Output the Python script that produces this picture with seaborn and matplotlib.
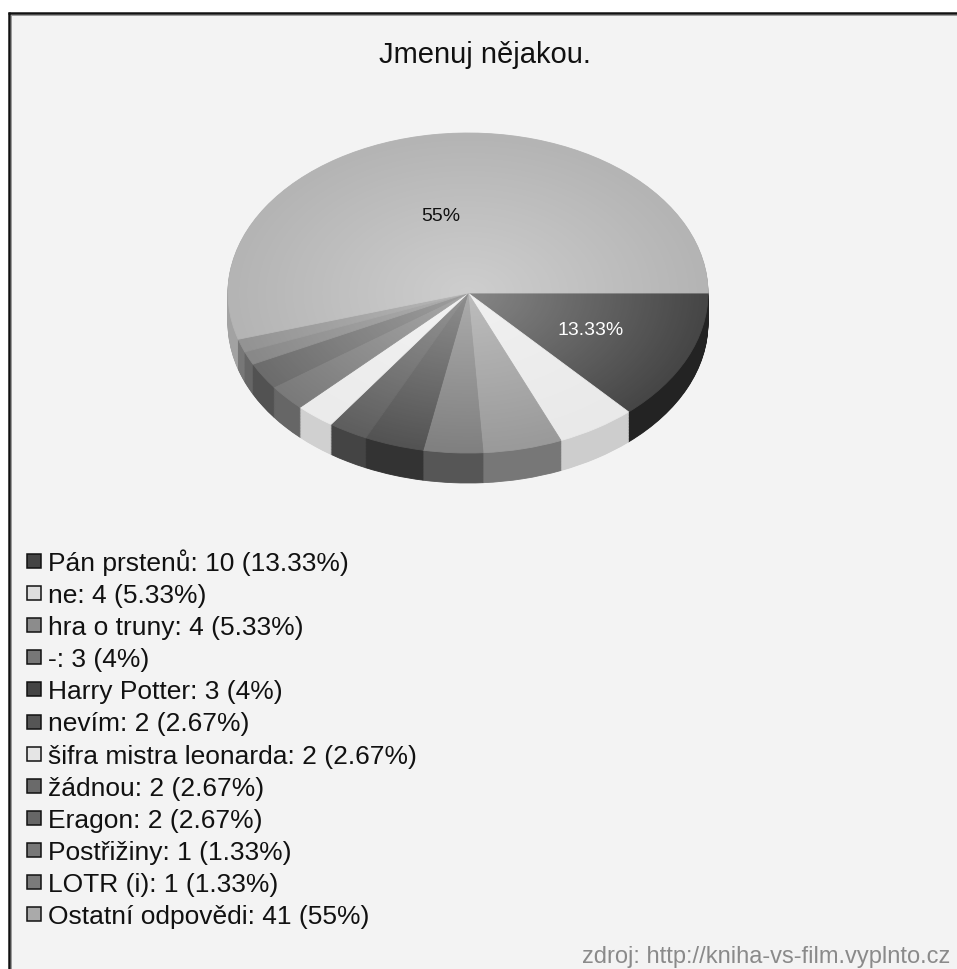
import numpy as np
import matplotlib
matplotlib.use("Agg")
import matplotlib.pyplot as plt
from matplotlib.patches import Rectangle, Circle
import seaborn as sns

# ---------------- data ----------------
categories = ["Pán prstenů", "ne", "hra o truny", "-", "Harry Potter", "nevím",
              "šifra mistra leonarda", "žádnou", "Eragon", "Postřižiny",
              "LOTR (i)", "Ostatní odpovědi"]
counts = [10, 4, 4, 3, 3, 2, 2, 2, 2, 1, 1, 41]
percent_labels = ["13.33", "5.33", "5.33", "4", "4", "2.67", "2.67", "2.67",
                  "2.67", "1.33", "1.33", "55"]
title = "Jmenuj nějakou."
source = "zdroj: http://kniha-vs-film.vyplnto.cz"

# ---------------- style ----------------
top_colors = ["#464646", "#e9e9e9", "#9a9a9a", "#808080", "#535353", "#5e5e5e",
              "#ebebeb", "#7a7a7a", "#6c6c6c", "#888888", "#939393", "#b4b4b4"]
side_colors = ["#232323", "#cdcdcd", "#777777", "#565656", "#333333", "#444444",
               "#d0d0d0", "#666666", "#525252", "#666666", "#777777", "#a2a2a2"]
legend_colors = ["#444444", "#dddddd", "#8c8c8c", "#777777", "#444444", "#555555",
                 "#e5e5e5", "#6a6a6a", "#666666", "#777777", "#7a7a7a", "#aaaaaa"]

sns.set_theme(style="white")
plt.rcParams["font.family"] = ["Liberation Sans", "DejaVu Sans"]

W, H = 957, 970
fig = plt.figure(figsize=(W / 100, H / 100), dpi=100)
fig.patch.set_facecolor("#f3f3f3")

# background / frame axes in pixel coordinates
bg = fig.add_axes([0, 0, 1, 1])
bg.set_xlim(0, W)
bg.set_ylim(H, 0)
bg.axis("off")
# white outside strips (left and top)
bg.add_patch(Rectangle((-10, -10), 19, H + 20, facecolor="white", edgecolor="none"))
bg.add_patch(Rectangle((-10, -10), W + 20, 24, facecolor="white", edgecolor="none"))
bg.plot([9, 9], [13, H + 5], color="#111111", lw=1.8, solid_capstyle="butt")
bg.plot([8, W + 5], [14, 14], color="#111111", lw=1.8, solid_capstyle="butt")
bg.plot([11, 11], [16, H + 5], color="#999999", lw=0.7)
bg.plot([11, W + 5], [16, 16], color="#999999", lw=0.7)

bg.text(485, 63, title, ha="center", va="baseline", fontsize=21, color="#111111")

# legend rows
row0, step = 571, 32.1
for i, (cat, n, p, col) in enumerate(zip(categories, counts, percent_labels, legend_colors)):
    base = row0 + i * step
    bg.add_patch(Rectangle((26.5, base - 16), 14, 14, facecolor=col,
                           edgecolor="#111111", linewidth=1.1))
    bg.text(48, base, f"{cat}: {n} ({p}%)", ha="left", va="baseline",
            fontsize=19, color="#111111")

bg.text(950, 963, source, ha="right", va="baseline", fontsize=17, color="#8a8a8a")

# ---------------- pie (pseudo 3D) ----------------
cx_px, cy_px, rx_px, ry_px, depth_px = 468, 294, 240, 160, 30
xl = (-1.05, 1.05)
yl = (-1.3, 1.05)
ax_w = (xl[1] - xl[0]) * rx_px
ax_h = (yl[1] - yl[0]) * ry_px
left = cx_px + xl[0] * rx_px
bottom = (H - cy_px) + yl[0] * ry_px
ax = fig.add_axes([left / W, bottom / H, ax_w / W, ax_h / H])
ax.patch.set_visible(False)

depth = depth_px / ry_px
n_layers = 40
for k in range(n_layers):
    cy = -depth + depth * k / n_layers
    wedges, _ = ax.pie(counts, colors=side_colors, startangle=0, counterclock=False,
                       center=(0, cy), radius=1,
                       wedgeprops=dict(linewidth=0.6))
    for w in wedges:
        w.set_edgecolor(w.get_facecolor())

top_wedges, _ = ax.pie(counts, colors=top_colors, startangle=0, counterclock=False,
                       center=(0, 0), radius=1, wedgeprops=dict(linewidth=0.6))
for w in top_wedges:
    w.set_edgecolor(w.get_facecolor())

# radial light gradient on the top face
g = np.linspace(-1, 1, 400)
X, Y = np.meshgrid(g, g)
R = np.sqrt(X ** 2 + Y ** 2)
alpha = np.clip(1 - R, 0, 1) * 0.35
img = np.zeros((400, 400, 4))
img[..., :3] = 1.0
img[..., 3] = alpha
im = ax.imshow(img, extent=(-1, 1, -1, 1), origin="lower", aspect="auto",
               zorder=5, interpolation="bilinear")
clip = Circle((0, 0), 1, transform=ax.transData)
im.set_clip_path(clip)

# value labels for large slices
for w, p in zip(top_wedges, percent_labels):
    if float(p) >= 10:
        mid = np.deg2rad((w.theta1 + w.theta2) / 2)
        r = 0.49 if float(p) > 50 else 0.56
        dark = sum(matplotlib.colors.to_rgb(w.get_facecolor())) / 3 < 0.5
        ax.text(r * np.cos(mid) - (0.04 if float(p) > 50 else 0), r * np.sin(mid),
                f"{p}%", ha="center", va="center",
                fontsize=14, color="white" if dark else "#111111", zorder=6)

ax.set_aspect("auto")
ax.set_xlim(*xl)
ax.set_ylim(*yl)
ax.axis("off")

fig.savefig("out.png", dpi=100, facecolor=fig.get_facecolor())
